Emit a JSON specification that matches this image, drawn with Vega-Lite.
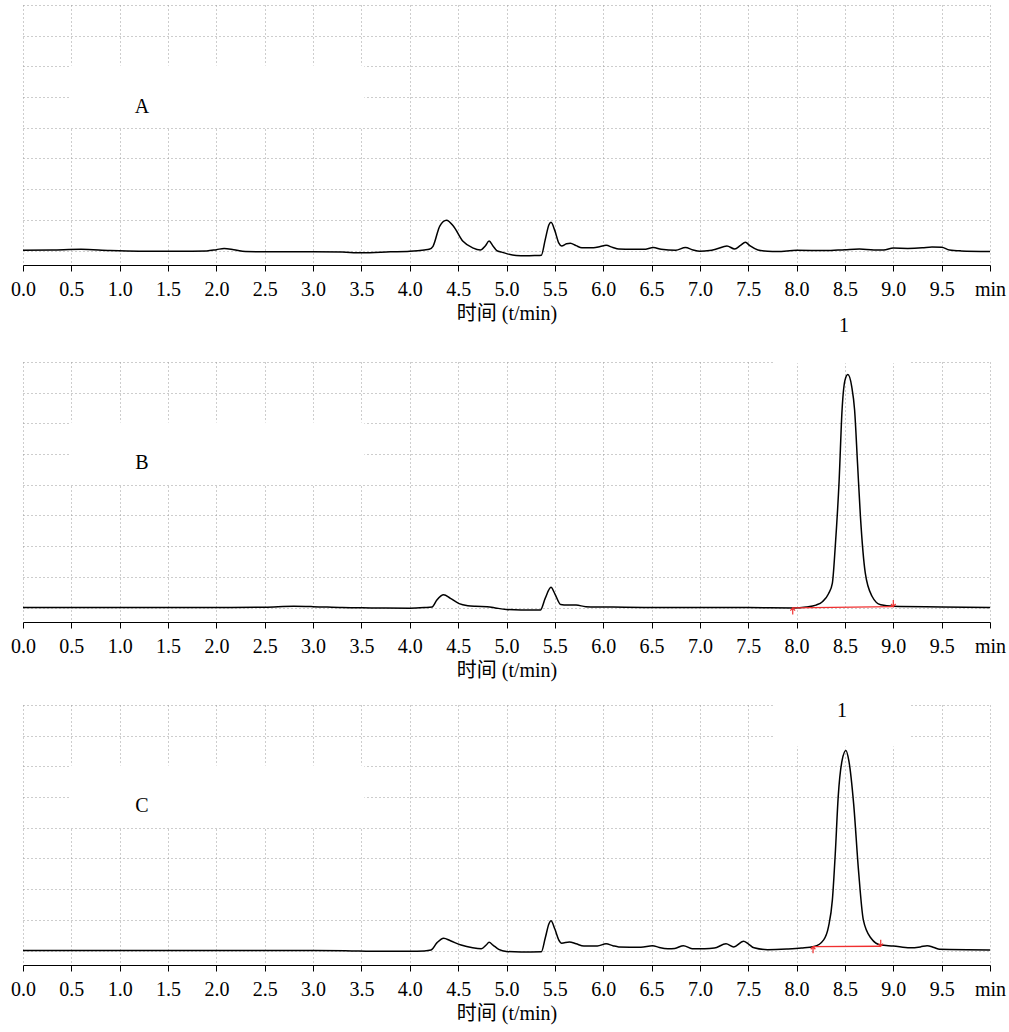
{
  "$schema": "https://vega.github.io/schema/vega-lite/v6.json",
  "description": "Three HPLC chromatograms (A, B, C) with peak 1 near 8.5 min",
  "background": "white",
  "padding": {"left": 10, "top": 5, "right": 5, "bottom": 5},
  "spacing": -7,
  "config": {
    "view": {"stroke": null},
    "font": "Liberation Serif",
    "axis": {
      "labelFont": "Liberation Serif",
      "labelFontSize": 20,
      "labelColor": "black",
      "titleFont": "Liberation Serif, Noto Sans CJK SC",
      "titleFontSize": 20,
      "titleFontWeight": "normal",
      "titleColor": "black",
      "gridColor": "#9a9a9a",
      "gridDash": [1, 3],
      "gridWidth": 1,
      "gridOpacity": 1
    }
  },
  "datasets": {
    "traceA": [
      {"t": 0.0, "v": 0.01}, {"t": 0.3, "v": 0.02}, {"t": 0.6, "v": 0.04}, {"t": 0.9, "v": 0.0},
      {"t": 1.2, "v": -0.02}, {"t": 1.6, "v": -0.02}, {"t": 1.9, "v": -0.01}, {"t": 2.0, "v": 0.03},
      {"t": 2.08, "v": 0.07}, {"t": 2.18, "v": 0.03}, {"t": 2.3, "v": -0.03}, {"t": 2.6, "v": -0.04},
      {"t": 3.0, "v": -0.04}, {"t": 3.3, "v": -0.05}, {"t": 3.5, "v": -0.07}, {"t": 3.8, "v": -0.04},
      {"t": 4.0, "v": -0.02}, {"t": 4.15, "v": 0.02}, {"t": 4.2, "v": 0.04}, {"t": 4.24, "v": 0.14},
      {"t": 4.31, "v": 0.8}, {"t": 4.38, "v": 0.99}, {"t": 4.45, "v": 0.8}, {"t": 4.55, "v": 0.3},
      {"t": 4.65, "v": 0.09}, {"t": 4.73, "v": 0.02}, {"t": 4.78, "v": 0.15}, {"t": 4.82, "v": 0.31},
      {"t": 4.86, "v": 0.15}, {"t": 4.9, "v": 0.0}, {"t": 4.95, "v": -0.05}, {"t": 5.0, "v": -0.1},
      {"t": 5.1, "v": -0.16}, {"t": 5.2, "v": -0.17}, {"t": 5.3, "v": -0.16}, {"t": 5.36, "v": -0.15},
      {"t": 5.4, "v": 0.35}, {"t": 5.44, "v": 0.85}, {"t": 5.46, "v": 0.92}, {"t": 5.5, "v": 0.65},
      {"t": 5.54, "v": 0.25}, {"t": 5.57, "v": 0.15}, {"t": 5.62, "v": 0.22}, {"t": 5.66, "v": 0.24},
      {"t": 5.72, "v": 0.16}, {"t": 5.78, "v": 0.09}, {"t": 5.9, "v": 0.09}, {"t": 5.97, "v": 0.13},
      {"t": 6.03, "v": 0.17}, {"t": 6.1, "v": 0.1}, {"t": 6.16, "v": 0.05}, {"t": 6.3, "v": 0.04},
      {"t": 6.42, "v": 0.04}, {"t": 6.52, "v": 0.1}, {"t": 6.6, "v": 0.04}, {"t": 6.75, "v": 0.01},
      {"t": 6.85, "v": 0.1}, {"t": 6.93, "v": 0.02}, {"t": 7.0, "v": -0.02}, {"t": 7.1, "v": 0.0},
      {"t": 7.17, "v": 0.05}, {"t": 7.28, "v": 0.15}, {"t": 7.36, "v": 0.05}, {"t": 7.42, "v": 0.17},
      {"t": 7.47, "v": 0.27}, {"t": 7.52, "v": 0.15}, {"t": 7.6, "v": 0.02}, {"t": 7.7, "v": -0.02},
      {"t": 7.8, "v": -0.03}, {"t": 8.0, "v": 0.01}, {"t": 8.3, "v": 0.0}, {"t": 8.5, "v": 0.03},
      {"t": 8.65, "v": 0.05}, {"t": 8.8, "v": 0.02}, {"t": 8.9, "v": 0.02}, {"t": 9.0, "v": 0.08},
      {"t": 9.15, "v": 0.07}, {"t": 9.3, "v": 0.09}, {"t": 9.4, "v": 0.12}, {"t": 9.5, "v": 0.11},
      {"t": 9.58, "v": 0.02}, {"t": 9.7, "v": -0.01}, {"t": 10.0, "v": -0.03}
    ],
    "traceB": [
      {"t": 0.0, "v": 0.0}, {"t": 1.0, "v": 0.0}, {"t": 2.0, "v": 0.0}, {"t": 2.5, "v": 0.01},
      {"t": 2.8, "v": 0.04}, {"t": 3.0, "v": 0.03}, {"t": 3.3, "v": 0.0}, {"t": 3.6, "v": -0.01},
      {"t": 4.0, "v": -0.02}, {"t": 4.15, "v": 0.0}, {"t": 4.23, "v": 0.02}, {"t": 4.28, "v": 0.25},
      {"t": 4.35, "v": 0.42}, {"t": 4.42, "v": 0.3}, {"t": 4.51, "v": 0.13}, {"t": 4.6, "v": 0.06},
      {"t": 4.68, "v": 0.04}, {"t": 4.8, "v": 0.03}, {"t": 4.9, "v": -0.02}, {"t": 5.0, "v": -0.06},
      {"t": 5.15, "v": -0.08}, {"t": 5.35, "v": -0.08}, {"t": 5.4, "v": 0.3}, {"t": 5.46, "v": 0.66},
      {"t": 5.5, "v": 0.45}, {"t": 5.56, "v": 0.1}, {"t": 5.63, "v": 0.08}, {"t": 5.72, "v": 0.08},
      {"t": 5.82, "v": 0.03}, {"t": 6.0, "v": 0.02}, {"t": 6.5, "v": 0.0}, {"t": 7.0, "v": 0.0},
      {"t": 7.5, "v": 0.0}, {"t": 7.96, "v": -0.01}, {"t": 8.1, "v": 0.02}, {"t": 8.2, "v": 0.08},
      {"t": 8.27, "v": 0.2}, {"t": 8.33, "v": 0.45}, {"t": 8.37, "v": 0.8}, {"t": 8.4, "v": 2.0},
      {"t": 8.44, "v": 4.15}, {"t": 8.47, "v": 6.43}, {"t": 8.5, "v": 7.4}, {"t": 8.53, "v": 7.59},
      {"t": 8.57, "v": 7.2}, {"t": 8.6, "v": 6.43}, {"t": 8.63, "v": 4.7}, {"t": 8.66, "v": 2.97},
      {"t": 8.71, "v": 1.13}, {"t": 8.78, "v": 0.37}, {"t": 8.87, "v": 0.09}, {"t": 9.0, "v": 0.04},
      {"t": 9.5, "v": 0.02}, {"t": 10.0, "v": 0.0}
    ],
    "traceC": [
      {"t": 0.0, "v": 0.0}, {"t": 1.0, "v": 0.0}, {"t": 2.0, "v": 0.0}, {"t": 3.0, "v": 0.0},
      {"t": 3.4, "v": -0.01}, {"t": 3.6, "v": -0.02}, {"t": 4.0, "v": -0.02}, {"t": 4.15, "v": -0.01},
      {"t": 4.22, "v": 0.02}, {"t": 4.28, "v": 0.25}, {"t": 4.35, "v": 0.4}, {"t": 4.42, "v": 0.32},
      {"t": 4.53, "v": 0.18}, {"t": 4.65, "v": 0.09}, {"t": 4.74, "v": 0.06}, {"t": 4.79, "v": 0.18},
      {"t": 4.82, "v": 0.27}, {"t": 4.86, "v": 0.18}, {"t": 4.92, "v": 0.04}, {"t": 5.0, "v": -0.03},
      {"t": 5.15, "v": -0.05}, {"t": 5.36, "v": -0.04}, {"t": 5.4, "v": 0.4}, {"t": 5.44, "v": 0.88},
      {"t": 5.46, "v": 0.97}, {"t": 5.5, "v": 0.7}, {"t": 5.54, "v": 0.35}, {"t": 5.57, "v": 0.24},
      {"t": 5.65, "v": 0.28}, {"t": 5.72, "v": 0.22}, {"t": 5.8, "v": 0.15}, {"t": 5.94, "v": 0.15},
      {"t": 6.03, "v": 0.22}, {"t": 6.1, "v": 0.16}, {"t": 6.16, "v": 0.12}, {"t": 6.39, "v": 0.11},
      {"t": 6.51, "v": 0.16}, {"t": 6.58, "v": 0.1}, {"t": 6.67, "v": 0.06}, {"t": 6.74, "v": 0.07},
      {"t": 6.83, "v": 0.16}, {"t": 6.92, "v": 0.06}, {"t": 7.05, "v": 0.06}, {"t": 7.15, "v": 0.08},
      {"t": 7.27, "v": 0.22}, {"t": 7.35, "v": 0.12}, {"t": 7.45, "v": 0.3}, {"t": 7.5, "v": 0.22},
      {"t": 7.56, "v": 0.09}, {"t": 7.7, "v": 0.03}, {"t": 7.9, "v": 0.05}, {"t": 8.05, "v": 0.08},
      {"t": 8.18, "v": 0.13}, {"t": 8.28, "v": 0.35}, {"t": 8.33, "v": 0.78}, {"t": 8.37, "v": 1.65},
      {"t": 8.4, "v": 3.16}, {"t": 8.43, "v": 5.0}, {"t": 8.47, "v": 6.19}, {"t": 8.51, "v": 6.52},
      {"t": 8.54, "v": 6.19}, {"t": 8.59, "v": 4.78}, {"t": 8.64, "v": 2.62}, {"t": 8.69, "v": 1.0},
      {"t": 8.77, "v": 0.4}, {"t": 8.87, "v": 0.18}, {"t": 9.0, "v": 0.15}, {"t": 9.17, "v": 0.09},
      {"t": 9.28, "v": 0.12}, {"t": 9.35, "v": 0.16}, {"t": 9.42, "v": 0.1}, {"t": 9.48, "v": 0.04},
      {"t": 10.0, "v": 0.02}
    ],
    "boxes": [
      {"panel": "A", "t": 0.49, "t2": 3.53, "v": 4.02, "v2": 6.03},
      {"panel": "B", "t": 0.49, "t2": 3.53, "v": 4.02, "v2": 6.03},
      {"panel": "B", "t": 7.76, "t2": 9.18, "v": 7.96, "v2": 8.6},
      {"panel": "C", "t": 0.49, "t2": 3.53, "v": 4.02, "v2": 6.03},
      {"panel": "C", "t": 7.76, "t2": 9.18, "v": 6.65, "v2": 9.04}
    ],
    "labels": [
      {"panel": "A", "t": 1.23, "v": 4.68, "text": "A"},
      {"panel": "B", "t": 1.23, "v": 4.7, "text": "B"},
      {"panel": "B", "t": 8.49, "v": 9.17, "text": "1"},
      {"panel": "C", "t": 1.23, "v": 4.7, "text": "C"},
      {"panel": "C", "t": 8.47, "v": 7.8, "text": "1"}
    ],
    "baselines": [
      {"panel": "B", "t": 7.96, "v": -0.01, "dir": "up"},
      {"panel": "B", "t": 9.0, "v": 0.03, "dir": "down"},
      {"panel": "C", "t": 8.17, "v": 0.13, "dir": "up"},
      {"panel": "C", "t": 8.87, "v": 0.14, "dir": "down"}
    ]
  },
  "vconcat": [
    {
      "width": 967,
      "height": 260,
      "encoding": {
        "x": {
          "field": "t", "type": "quantitative",
          "scale": {"domain": [0, 10], "nice": false},
          "axis": {
            "values": [0, 0.5, 1, 1.5, 2, 2.5, 3, 3.5, 4, 4.5, 5, 5.5, 6, 6.5, 7, 7.5, 8, 8.5, 9, 9.5, 10],
            "labelExpr": "datum.value == 10 ? 'min' : format(datum.value, '.1f')",
            "labelFont": "Liberation Serif", "labelFontSize": 20, "labelColor": "black",
            "titleFont": "Liberation Serif, Noto Sans CJK SC", "titleFontSize": 20, "titleFontWeight": "normal",
            "grid": true, "tickSize": 6, "tickColor": "black", "domainColor": "black",
            "labelPadding": 8, "titlePadding": 4, "labelFlush": false,
            "title": "时间 (t/min)"
          }
        },
        "y": {
          "field": "v", "type": "quantitative",
          "scale": {"domain": [-0.47, 8], "nice": false, "zero": false},
          "axis": {"values": [0, 1, 2, 3, 4, 5, 6, 7, 8], "grid": true, "labels": false, "ticks": false, "domain": false, "title": null}
        }
      },
      "layer": [
        {
          "data": {"name": "boxes"},
          "transform": [{"filter": "datum.panel == 'A'"}],
          "mark": {"type": "rect", "fill": "white"},
          "encoding": {"x2": {"field": "t2"}, "y2": {"field": "v2"}}
        },
        {
          "data": {"name": "traceA"},
          "mark": {"type": "line", "color": "black", "strokeWidth": 1.5, "interpolate": "monotone"}
        },
        {
          "data": {"name": "labels"},
          "transform": [{"filter": "datum.panel == 'A'"}],
          "mark": {"type": "text", "font": "Liberation Serif", "fontSize": 20, "color": "black"},
          "encoding": {"text": {"field": "text"}}
        }
      ]
    },
    {
      "width": 967,
      "height": 260,
      "encoding": {
        "x": {
          "field": "t", "type": "quantitative",
          "scale": {"domain": [0, 10], "nice": false},
          "axis": {
            "values": [0, 0.5, 1, 1.5, 2, 2.5, 3, 3.5, 4, 4.5, 5, 5.5, 6, 6.5, 7, 7.5, 8, 8.5, 9, 9.5, 10],
            "labelExpr": "datum.value == 10 ? 'min' : format(datum.value, '.1f')",
            "labelFont": "Liberation Serif", "labelFontSize": 20, "labelColor": "black",
            "titleFont": "Liberation Serif, Noto Sans CJK SC", "titleFontSize": 20, "titleFontWeight": "normal",
            "grid": true, "tickSize": 6, "tickColor": "black", "domainColor": "black",
            "labelPadding": 8, "titlePadding": 4, "labelFlush": false,
            "title": "时间 (t/min)"
          }
        },
        "y": {
          "field": "v", "type": "quantitative",
          "scale": {"domain": [-0.47, 8], "nice": false, "zero": false},
          "axis": {"values": [0, 1, 2, 3, 4, 5, 6, 7, 8], "grid": true, "labels": false, "ticks": false, "domain": false, "title": null}
        }
      },
      "layer": [
        {
          "data": {"name": "boxes"},
          "transform": [{"filter": "datum.panel == 'B'"}],
          "mark": {"type": "rect", "fill": "white"},
          "encoding": {"x2": {"field": "t2"}, "y2": {"field": "v2"}}
        },
        {
          "data": {"name": "traceB"},
          "mark": {"type": "line", "color": "black", "strokeWidth": 1.5, "interpolate": "monotone"}
        },
        {
          "data": {"name": "baselines"},
          "transform": [{"filter": "datum.panel == 'B'"}],
          "mark": {"type": "line", "color": "#f03030", "strokeWidth": 1.4}
        },
        {
          "data": {"name": "baselines"},
          "transform": [{"filter": "datum.panel == 'B'"}],
          "mark": {"type": "point", "filled": false, "color": "#f03030", "strokeWidth": 1.2, "size": 44, "opacity": 1},
          "encoding": {
            "shape": {
              "field": "dir", "type": "nominal", "legend": null,
              "scale": {"domain": ["up", "down"], "range": ["M0,0L0,2M-0.7,0.8L0,0L0.7,0.8", "M0,0L0,-2M-0.7,-0.8L0,0L0.7,-0.8"]}
            }
          }
        },
        {
          "data": {"name": "labels"},
          "transform": [{"filter": "datum.panel == 'B'"}],
          "mark": {"type": "text", "font": "Liberation Serif", "fontSize": 20, "color": "black"},
          "encoding": {"text": {"field": "text"}}
        }
      ]
    },
    {
      "width": 967,
      "height": 260,
      "encoding": {
        "x": {
          "field": "t", "type": "quantitative",
          "scale": {"domain": [0, 10], "nice": false},
          "axis": {
            "values": [0, 0.5, 1, 1.5, 2, 2.5, 3, 3.5, 4, 4.5, 5, 5.5, 6, 6.5, 7, 7.5, 8, 8.5, 9, 9.5, 10],
            "labelExpr": "datum.value == 10 ? 'min' : format(datum.value, '.1f')",
            "labelFont": "Liberation Serif", "labelFontSize": 20, "labelColor": "black",
            "titleFont": "Liberation Serif, Noto Sans CJK SC", "titleFontSize": 20, "titleFontWeight": "normal",
            "grid": true, "tickSize": 6, "tickColor": "black", "domainColor": "black",
            "labelPadding": 8, "titlePadding": 4, "labelFlush": false,
            "title": "时间 (t/min)"
          }
        },
        "y": {
          "field": "v", "type": "quantitative",
          "scale": {"domain": [-0.47, 8], "nice": false, "zero": false},
          "axis": {"values": [0, 1, 2, 3, 4, 5, 6, 7, 8], "grid": true, "labels": false, "ticks": false, "domain": false, "title": null}
        }
      },
      "layer": [
        {
          "data": {"name": "boxes"},
          "transform": [{"filter": "datum.panel == 'C'"}],
          "mark": {"type": "rect", "fill": "white"},
          "encoding": {"x2": {"field": "t2"}, "y2": {"field": "v2"}}
        },
        {
          "data": {"name": "traceC"},
          "mark": {"type": "line", "color": "black", "strokeWidth": 1.5, "interpolate": "monotone"}
        },
        {
          "data": {"name": "baselines"},
          "transform": [{"filter": "datum.panel == 'C'"}],
          "mark": {"type": "line", "color": "#f03030", "strokeWidth": 1.4}
        },
        {
          "data": {"name": "baselines"},
          "transform": [{"filter": "datum.panel == 'C'"}],
          "mark": {"type": "point", "filled": false, "color": "#f03030", "strokeWidth": 1.2, "size": 44, "opacity": 1},
          "encoding": {
            "shape": {
              "field": "dir", "type": "nominal", "legend": null,
              "scale": {"domain": ["up", "down"], "range": ["M0,0L0,2M-0.7,0.8L0,0L0.7,0.8", "M0,0L0,-2M-0.7,-0.8L0,0L0.7,-0.8"]}
            }
          }
        },
        {
          "data": {"name": "labels"},
          "transform": [{"filter": "datum.panel == 'C'"}],
          "mark": {"type": "text", "font": "Liberation Serif", "fontSize": 20, "color": "black"},
          "encoding": {"text": {"field": "text"}}
        }
      ]
    }
  ]
}
